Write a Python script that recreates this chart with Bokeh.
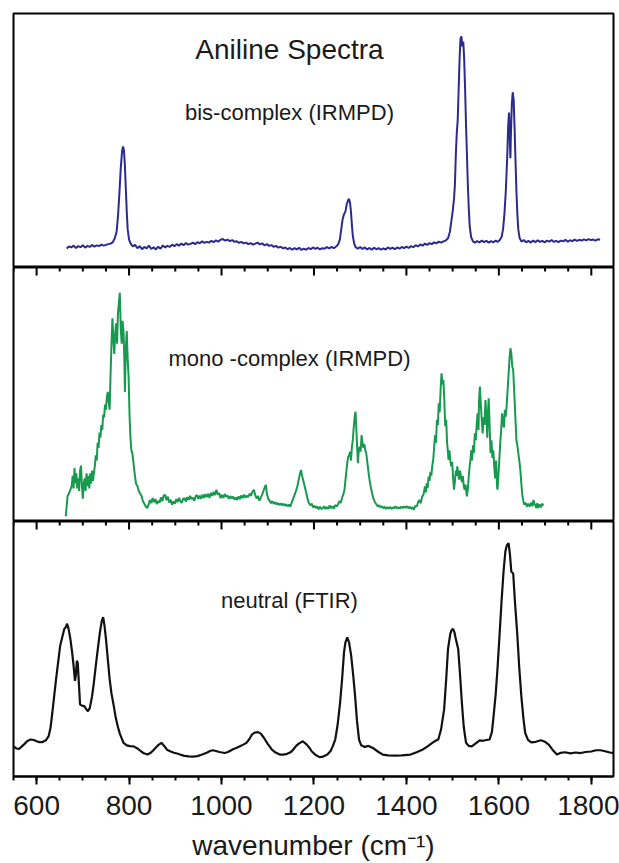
from bokeh.plotting import figure
from bokeh.layouts import column
from bokeh.models import Range1d, LinearAxis, SingleIntervalTicker, Label, ColumnDataSource
from bokeh.embed import file_html
from bokeh.resources import INLINE

# ---------------- data ----------------
tick_values = [600, 800, 1000, 1200, 1400, 1600, 1800]
minor_step = 50

wn_bis = [
    665, 670, 675, 680, 685, 690, 695, 700, 705, 710,
    715, 720, 725, 730, 735, 740, 745, 750, 755, 760,
    765, 769, 773, 776, 779, 782, 785, 787, 789, 791,
    793, 795, 797, 800, 804, 808, 813, 818, 823, 828,
    833, 838, 843, 848, 853, 858, 863, 868, 873, 878,
    883, 888, 893, 898, 903, 908, 913, 918, 923, 928,
    933, 938, 943, 948, 953, 958, 963, 968, 973, 978,
    983, 988, 993, 998, 1003, 1008, 1013, 1018, 1023, 1028,
    1033, 1038, 1043, 1048, 1053, 1058, 1063, 1068, 1073, 1078,
    1083, 1088, 1093, 1098, 1103, 1108, 1113, 1118, 1123, 1128,
    1133, 1138, 1143, 1148, 1153, 1158, 1163, 1168, 1173, 1178,
    1183, 1188, 1193, 1198, 1203, 1208, 1213, 1218, 1223, 1228,
    1233, 1238, 1243, 1248, 1252, 1256, 1259, 1262, 1265, 1268,
    1271, 1274, 1276, 1278, 1280, 1282, 1284, 1287, 1290, 1295,
    1300, 1305, 1310, 1315, 1320, 1325, 1330, 1335, 1340, 1345,
    1350, 1355, 1360, 1365, 1370, 1375, 1380, 1385, 1390, 1395,
    1400, 1405, 1410, 1415, 1420, 1425, 1430, 1435, 1440, 1445,
    1450, 1455, 1460, 1465, 1470, 1475, 1480, 1485, 1490, 1494,
    1497, 1500, 1503, 1505, 1507, 1509, 1511, 1513, 1515, 1517,
    1519, 1521, 1523, 1525, 1527, 1529, 1531, 1533, 1535, 1537,
    1540, 1544, 1548, 1553, 1558, 1563, 1568, 1573, 1578, 1583,
    1588, 1593, 1598, 1602, 1606, 1609, 1612, 1615, 1618, 1620,
    1622, 1624, 1625, 1626, 1628, 1630, 1632, 1634, 1636, 1638,
    1640, 1642, 1645, 1649, 1654, 1659, 1664, 1669, 1674, 1679,
    1684, 1689, 1694, 1699, 1704, 1709, 1714, 1719, 1724, 1729,
    1734, 1739, 1744, 1749, 1754, 1759, 1764, 1769, 1774, 1779,
    1784, 1789, 1794, 1799, 1804, 1809, 1814, 1819,
]
int_bis = [
    7.5, 8.3, 7.9, 8.6, 7.7, 8.4, 8.0, 8.8, 7.8, 8.5,
    8.1, 8.9, 8.2, 8.7, 8.4, 9.0, 8.6, 8.9, 9.2, 9.4,
    10.0, 11.5, 14, 20, 29, 39, 46, 47.6, 46, 40,
    31, 22, 15, 11, 9.2, 8.3, 8.9, 7.6, 8.4, 7.2,
    8.1, 7.5, 8.6, 7.3, 8.0, 7.1, 8.2, 7.4, 8.7, 7.9,
    8.5, 8.1, 9.0, 8.4, 9.2, 8.6, 9.4, 8.8, 9.6, 9.0,
    9.3, 9.8, 9.2, 10.0, 9.5, 10.3, 9.7, 10.1, 9.8, 10.5,
    10.0, 10.7, 10.2, 10.9, 11.2, 10.6, 11.0, 10.4, 10.8, 10.1,
    10.3, 9.7, 10.1, 9.5, 9.8, 9.2, 9.6, 9.0, 9.4, 9.8,
    9.1, 9.5, 8.7, 9.2, 8.5, 8.8, 8.1, 8.5, 7.8, 8.2,
    7.5, 7.9, 7.2, 7.7, 7.0, 7.6, 7.1, 7.8, 6.9, 7.4,
    7.0, 7.7, 7.2, 7.9, 7.3, 7.8, 7.1, 7.6, 7.4, 8.0,
    7.5, 8.1, 7.6, 8.3, 9.0, 11, 15, 19, 21, 22,
    25, 26.5, 27, 25.5, 22, 17, 12.5, 9.5, 8.0, 7.4,
    8.1, 7.3, 7.9, 7.1, 7.7, 7.0, 7.8, 7.2, 7.6, 7.0,
    7.5, 7.1, 7.9, 7.3, 7.8, 7.2, 7.9, 7.4, 8.1, 7.6,
    8.2, 7.7, 8.4, 8.0, 8.8, 8.3, 9.1, 8.6, 9.4, 8.9,
    9.6, 9.2, 9.9, 9.5, 10.2, 9.8, 10.3, 10.6, 11.5, 14,
    18, 22, 27, 33, 45, 53, 58, 70, 82, 90,
    91, 87, 89, 82, 70, 56, 44, 32, 23, 16,
    12, 10.3, 9.8, 10.4, 9.9, 10.6, 10.0, 10.5, 9.8, 10.4,
    9.9, 10.6, 10.1, 10.8, 12, 15, 21, 30, 43, 55,
    61, 48, 43, 52, 64, 69, 66, 55, 42, 30,
    21, 15, 11.5, 10.2, 10.8, 9.9, 10.5, 9.8, 10.6, 10.0,
    10.7, 10.1, 10.5, 9.9, 10.6, 10.2, 10.8, 10.1, 10.5, 10.0,
    10.6, 10.3, 10.9, 10.2, 10.7, 10.4, 11.0, 10.5, 10.9, 10.6,
    11.1, 10.7, 11.2, 10.8, 11.0, 10.6, 11.1, 10.9,
]

wn_mono = [
    663, 665, 667, 670, 673, 676, 678, 680, 682, 684,
    686, 688, 690, 692, 694, 696, 698, 700, 702, 704,
    706, 708, 710, 712, 714, 716, 718, 720, 722, 724,
    726, 728, 730, 732, 734, 736, 738, 740, 742, 744,
    746, 748, 750, 752, 754, 756, 758, 760, 762, 764,
    766, 768, 770, 772, 774, 776, 778, 780, 782, 784,
    786, 788, 790, 791, 793, 795, 797, 799, 801, 803,
    805, 807, 809, 812, 815, 818, 821, 824, 827, 830,
    833, 836, 839, 842, 845, 848, 851, 854, 857, 860,
    863, 866, 869, 872, 875, 878, 881, 884, 887, 890,
    893, 896, 899, 902, 905, 908, 911, 914, 917, 920,
    923, 926, 929, 932, 935, 938, 941, 944, 947, 950,
    953, 956, 959, 962, 965, 968, 971, 974, 977, 980,
    983, 986, 989, 992, 995, 998, 1001, 1004, 1007, 1010,
    1013, 1016, 1019, 1022, 1025, 1028, 1031, 1034, 1037, 1040,
    1043, 1046, 1049, 1052, 1055, 1058, 1061, 1064, 1067, 1070,
    1073, 1076, 1079, 1082, 1085, 1088, 1091, 1094, 1096, 1098,
    1101, 1104, 1107, 1110, 1113, 1116, 1119, 1122, 1125, 1128,
    1131, 1134, 1137, 1140, 1143, 1146, 1149, 1152, 1155, 1158,
    1161, 1164, 1167, 1170, 1172, 1174, 1177, 1180, 1183, 1186,
    1189, 1192, 1195, 1198, 1201, 1204, 1207, 1210, 1213, 1216,
    1219, 1222, 1225, 1228, 1231, 1234, 1237, 1240, 1243, 1246,
    1249, 1252, 1255, 1258, 1261, 1264, 1266, 1268, 1270, 1272,
    1274, 1276, 1278, 1280, 1282, 1284, 1286, 1288, 1290, 1292,
    1294, 1295, 1297, 1299, 1301, 1303, 1305, 1307, 1309, 1311,
    1313, 1315, 1317, 1319, 1321, 1323, 1326, 1329, 1332, 1335,
    1338, 1341, 1344, 1347, 1350, 1353, 1356, 1359, 1362, 1365,
    1368, 1371, 1374, 1377, 1380, 1383, 1386, 1389, 1392, 1395,
    1398, 1401, 1404, 1407, 1410, 1413, 1416, 1419, 1422, 1425,
    1428, 1431, 1434, 1437, 1440, 1442, 1444, 1446, 1448, 1450,
    1452, 1454, 1456, 1458, 1460, 1462, 1464, 1466, 1468, 1470,
    1472, 1474, 1476, 1478, 1480, 1482, 1484, 1486, 1488, 1490,
    1491, 1493, 1495, 1497, 1499, 1501, 1503, 1505, 1507, 1509,
    1510, 1512, 1514, 1516, 1518, 1520, 1522, 1524, 1526, 1528,
    1530, 1531, 1533, 1535, 1537, 1539, 1540, 1542, 1544, 1546,
    1548, 1550, 1552, 1554, 1556, 1557, 1559, 1561, 1563, 1565,
    1567, 1569, 1571, 1573, 1575, 1577, 1578, 1580, 1582, 1584,
    1586, 1588, 1590, 1592, 1594, 1596, 1597, 1599, 1601, 1603,
    1605, 1607, 1609, 1611, 1613, 1615, 1617, 1619, 1621, 1623,
    1625, 1627, 1629, 1631, 1633, 1635, 1637, 1638, 1640, 1642,
    1645, 1647, 1649, 1651, 1653, 1655, 1658, 1661, 1664, 1667,
    1670, 1673, 1675, 1677, 1679, 1681, 1683, 1685, 1688, 1691,
    1694, 1696,
]
int_mono = [
    2, 6, 10, 11, 12.5, 14, 18, 13, 21, 15,
    19, 13, 17, 12, 20, 22, 14, 9, 15, 17,
    12, 19, 14, 18, 13, 19, 15, 20, 16, 19,
    22, 26, 24, 31, 29, 35, 33, 38, 36, 42,
    41, 46, 44, 49, 51, 47, 44, 58, 70, 80,
    72, 66, 74, 78, 70, 82, 86, 90, 76, 70,
    79, 75, 62, 51, 68, 75, 64, 57, 42, 33,
    28, 27, 24, 19, 15, 14, 12, 11, 10, 8,
    7, 6, 5.3, 6.5, 8.5, 7.2, 9.2, 7.6, 8.8, 6.9,
    8.1, 7.4, 9.5, 8.0, 10.3, 10.5, 8.4, 9.8, 7.5, 8.6,
    6.6, 7.9, 7.0, 8.8, 7.6, 9.3, 8.0, 7.3, 8.9, 9.2,
    7.8, 9.6, 8.5, 10.1, 8.8, 9.4, 8.1, 9.9, 10.4, 8.9,
    10.2, 9.0, 10.6, 9.3, 10.8, 9.6, 10.9, 9.4, 11.3, 10.1,
    11.7, 10.4, 12.5, 10.6, 11.2, 9.2, 10.5, 9.3, 10.8, 9.7,
    10.2, 8.9, 10.0, 9.1, 9.8, 8.6, 9.5, 8.5, 9.9, 8.8,
    10.3, 9.2, 10.6, 9.4, 10.1, 9.7, 11.0, 10.2, 11.8, 12.5,
    10.4, 9.1, 10.0, 8.2, 9.4, 10.7, 12.2, 13.8, 14.4, 11.0,
    9.0, 8.2, 7.2, 8.0, 7.0, 7.6, 6.7, 7.3, 6.5, 7.1,
    6.4, 7.0, 6.2, 6.8, 6.0, 6.6, 5.9, 7.5, 9.0, 10.5,
    12.0, 13.8, 16.5, 19.0, 20.3, 18.2, 16.0, 13.8, 11.5, 9.0,
    7.2, 6.4, 7.0, 5.6, 6.2, 5.3, 5.9, 4.8, 5.8, 4.9,
    5.3, 6.0, 4.9, 5.7, 5.0, 6.3, 5.2, 6.0, 5.1, 6.5,
    5.9, 6.7, 8.0, 7.3, 9.5, 11.0, 12.5, 16.0, 19.5, 23.0,
    25.5, 26.0, 27.5, 24.0, 29.0, 32.0, 37.0, 41.0, 43.2, 35.0,
    27.0, 23.0, 28.0, 29.5, 27.5, 34.0, 31.0, 29.0, 30.5, 28.0,
    27.0, 24.0, 21.0, 18.0, 15.5, 13.5, 11.0, 8.8, 7.6, 6.8,
    5.9, 6.4, 5.5, 6.0, 5.2, 5.8, 5.0, 5.6, 5.1, 5.7,
    5.0, 5.5, 5.3, 5.9, 5.1, 5.6, 5.2, 5.8, 5.3, 5.9,
    5.4, 6.0, 5.2, 5.8, 5.0, 5.6, 4.6, 6.2, 5.8, 7.4,
    8.5, 7.2, 9.8, 10.6, 13.8, 11.5, 15.0, 13.2, 17.7, 16.0,
    19.5, 18.0, 22.0, 24.3, 29.0, 34.0, 31.0, 40.0, 38.0, 46.5,
    43.0, 52.0, 58.3, 54.0, 55.7, 48.0, 37.5, 40.0, 31.0, 27.0,
    24.3, 28.0, 24.0, 21.7, 23.5, 17.0, 12.5, 16.0, 20.0, 18.0,
    21.7, 19.0, 16.5, 20.0, 17.7, 15.5, 18.0, 14.0, 12.5, 14.5,
    11.0, 9.9, 13.0, 18.0, 22.0, 25.0, 28.0, 24.0, 30.0, 27.0,
    34.7, 32.0, 38.0, 42.6, 36.0, 47.0, 53.1, 46.0, 40.0, 34.7,
    41.0, 38.0, 47.8, 42.0, 33.0, 45.0, 48.5, 38.0, 27.0, 32.0,
    25.0, 28.0, 21.7, 17.0, 24.0, 14.0, 12.5, 18.0, 24.3, 31.0,
    36.0, 42.6, 39.0, 37.0, 44.0, 41.3, 46.0, 52.0, 58.0, 64.0,
    68.2, 66.0, 61.0, 59.7, 52.0, 44.0, 36.0, 32.0, 30.0, 27.0,
    22.9, 19.0, 14.0, 10.0, 8.0, 6.6, 7.3, 5.9, 7.0, 5.9,
    7.4, 6.1, 8.5, 7.0, 6.4, 5.3, 7.2, 5.3, 6.8, 5.6,
    7.0, 6.2,
]

wn_neutral = [
    550, 556, 562, 568, 574, 580, 587, 594, 600, 606,
    613, 620, 626, 630, 634, 638, 642, 646, 651, 656,
    660, 663, 666, 669, 673, 677, 680, 683, 685, 687,
    689, 691, 694, 698, 703, 707, 711, 715, 720, 724,
    728, 732, 737, 741, 744, 747, 750, 754, 758, 762,
    767, 771, 775.5, 780, 788, 795, 802, 810, 818, 825,
    832, 840, 847, 852, 857, 863, 870, 876, 882, 890,
    897, 904, 912, 920, 929, 938, 948, 958, 968, 975,
    981, 988, 995, 1001, 1007, 1014, 1020, 1026, 1032, 1040,
    1047, 1054, 1060, 1066, 1072, 1079, 1085, 1092, 1100, 1109,
    1117, 1126, 1134, 1142, 1148, 1152, 1157, 1162, 1168, 1176,
    1180, 1184.5, 1190, 1195, 1203, 1212, 1220, 1229, 1236, 1241,
    1246, 1251, 1256.5, 1261, 1265, 1268, 1272, 1276, 1280.5, 1285,
    1289, 1293, 1297.5, 1302, 1310, 1318, 1327.5, 1338, 1349, 1360,
    1374.6, 1390, 1409, 1422, 1434.5, 1446, 1456, 1463, 1469, 1475,
    1481.6, 1486, 1490, 1495, 1498, 1501, 1504, 1508, 1512, 1516,
    1520, 1524, 1529, 1535, 1541.5, 1550, 1558.6, 1566, 1573, 1580,
    1585, 1588.6, 1593, 1597, 1601, 1605.7, 1610, 1614, 1617, 1621,
    1624, 1627, 1631, 1635, 1640, 1644, 1648.6, 1653, 1657, 1663,
    1670, 1680, 1691, 1700, 1708, 1716, 1725.6, 1734, 1742.7, 1755,
    1766, 1777, 1788, 1800, 1810, 1820, 1830, 1840, 1848,
]
int_neutral = [
    11.8, 11.0, 10.8, 11.8, 12.8, 13.9, 14.5, 14.3, 13.8, 13.5,
    13.5, 14.2, 15.8, 19, 25, 31.5, 38, 44, 51.3, 55,
    57.9, 58.5, 59.9, 58, 54, 48.5, 43.4, 37.5, 40, 45.4,
    44.5, 38, 28.3, 27.8, 27.6, 26.5, 25.6, 26.8, 31.5, 37,
    43.4, 49.5, 56.6, 61, 62.5, 59, 54, 46, 38.2, 32.5,
    27.6, 23.2, 19.7, 16.8, 13.2, 12.2, 11.9, 11.8, 11.0, 10.0,
    9.1, 8.6, 9.3, 10.2, 11.2, 12.3, 13.2, 12.0, 10.5, 9.8,
    9.3, 9.0, 8.5, 8.1, 7.9, 7.8, 8.0, 8.6, 9.3, 10.0,
    10.3, 10.0, 9.6, 9.4, 9.2, 9.6, 10.2, 10.8, 11.2, 11.9,
    12.5, 13.2, 14.6, 16.5, 17.2, 17.4, 16.8, 15.1, 12.8, 10.5,
    9.4, 8.6, 8.6, 8.9, 9.4, 9.9, 11.0, 12.1, 13.0, 13.8,
    13.2, 12.5, 11.3, 9.9, 8.5, 7.6, 7.8, 8.6, 10.0, 12.0,
    14.5, 20, 28.9, 38.5, 48.7, 52.5, 54.6, 52.5, 47.4, 39.5,
    31.5, 22, 14.5, 12.3, 11.6, 12.0, 11.2, 9.8, 8.6, 8.3,
    8.2, 8.3, 8.6, 9.5, 10.5, 11.8, 13.2, 14.0, 14.5, 18.5,
    26.3, 38, 50, 56, 57.5, 57.9, 56.5, 53, 50, 40,
    28.9, 19.5, 13.2, 12.0, 11.8, 13.0, 14.2, 14.0, 14.3, 14.5,
    17.5, 23.7, 32, 42.1, 54, 68.4, 80, 88.2, 90.5, 91.5,
    87, 80.3, 79.7, 68, 55.3, 43, 31.5, 23, 17, 14.4,
    13.4, 13.6, 14.2, 13.6, 12.5, 10.5, 8.6, 9.3, 9.5, 9.1,
    9.4, 9.2, 9.6, 9.8, 10.3, 10.3, 9.9, 9.4, 9.2,
]

# ---------------- layout ----------------
FONT = "Liberation Sans"
TEXT_COLOR = "#1a1a1a"
X_LO, X_HI = 550, 1848
MID_X = 1147  # horizontal centre for the panel captions
FRAME_W = 600


def make_ticker():
    return SingleIntervalTicker(interval=tick_values[1] - tick_values[0],
                                num_minor_ticks=4)


def panel(frame_h, border_top, inner_top_ticks, bottom_axis):
    p = figure(frame_width=FRAME_W, frame_height=frame_h,
               x_range=Range1d(X_LO, X_HI), y_range=Range1d(0, 100),
               x_axis_location=None, y_axis_location=None,
               toolbar_location=None, output_backend="svg",
               min_border_left=13, min_border_right=6,
               min_border_top=border_top, min_border_bottom=0,
               background_fill_color="white", border_fill_color="white")
    p.grid.grid_line_color = None
    p.outline_line_color = "black"
    p.outline_line_width = 2
    if inner_top_ticks:
        # tick marks hanging down from the shared border into this panel
        px_per_unit = frame_h / 100.0
        tick_x = [x for x in range(X_LO, X_HI + 1, minor_step)]
        major_x = [x for x in tick_x if x in tick_values]
        minor_x = [x for x in tick_x if x not in tick_values]
        p.segment(x0=major_x, x1=major_x, y0=[100] * len(major_x),
                  y1=[100 - 8 / px_per_unit] * len(major_x),
                  line_color="black", line_width=2)
        p.segment(x0=minor_x, x1=minor_x, y0=[100] * len(minor_x),
                  y1=[100 - 4 / px_per_unit] * len(minor_x),
                  line_color="black", line_width=2)
    if bottom_axis:
        ax = LinearAxis(ticker=make_ticker())
        ax.major_tick_in = 0
        ax.major_tick_out = 8
        ax.minor_tick_in = 0
        ax.minor_tick_out = 4
        ax.major_tick_line_width = 2
        ax.minor_tick_line_width = 2
        ax.axis_line_width = 2
        ax.major_label_text_font = FONT
        ax.major_label_text_font_size = "28px"
        ax.major_label_text_color = TEXT_COLOR
        ax.major_label_standoff = 11
        ax.axis_label = "wavenumber (cm\u207b\u00b9)"
        ax.axis_label_text_font = FONT
        ax.axis_label_text_font_size = "28px"
        ax.axis_label_text_font_style = "normal"
        ax.axis_label_text_color = TEXT_COLOR
        ax.axis_label_standoff = 12
        p.add_layout(ax, "below")
    return p


def caption(p, y, text, size):
    p.add_layout(Label(x=MID_X, y=y, text=text, text_align="center",
                       text_baseline="middle", text_font=FONT,
                       text_font_size=size, text_color=TEXT_COLOR))


p1 = panel(254, 13, False, False)
p1.line(x="wn", y="val", source=ColumnDataSource(dict(wn=wn_bis, val=int_bis)),
        line_color="#2b2b8e", line_width=2)
caption(p1, 86, "Aniline Spectra", "28px")
caption(p1, 61, "bis-complex (IRMPD)", "22px")

p2 = panel(254, 0, True, False)
p2.line(x="wn", y="val", source=ColumnDataSource(dict(wn=wn_mono, val=int_mono)),
        line_color="#17994f", line_width=2)
caption(p2, 64, "mono -complex (IRMPD)", "22px")

p3 = panel(255, 0, True, True)
p3.line(x="wn", y="val", source=ColumnDataSource(dict(wn=wn_neutral, val=int_neutral)),
        line_color="#111111", line_width=2.2)
caption(p3, 69, "neutral (FTIR)", "22px")

layout = column(p1, p2, p3, spacing=0)

open("out.html", "w").write(file_html(layout, INLINE))
